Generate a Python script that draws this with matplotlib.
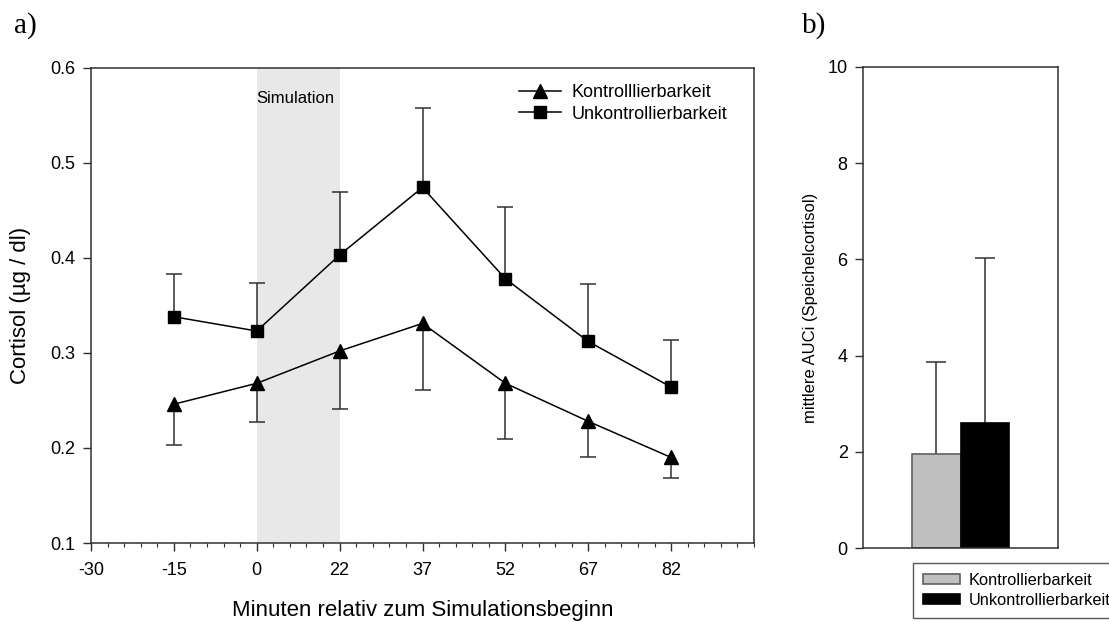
import numpy as np
import matplotlib
matplotlib.use("Agg")
import matplotlib.pyplot as plt
from matplotlib.ticker import MultipleLocator, FormatStrFormatter
from matplotlib.transforms import blended_transform_factory

plt.rcParams['font.family'] = ['Liberation Sans', 'DejaVu Sans']

# panel a: cortisol over time
minutes = ["-30", "-15", "0", "22", "37", "52", "67", "82"]
sample_minutes = ["-15", "0", "22", "37", "52", "67", "82"]
kontroll = [0.246, 0.268, 0.302, 0.331, 0.268, 0.228, 0.190]
kontroll_err = [0.043, 0.041, 0.061, 0.070, 0.059, 0.038, 0.022]
unkontroll = [0.338, 0.323, 0.403, 0.474, 0.378, 0.312, 0.264]
unkontroll_err = [0.045, 0.050, 0.066, 0.084, 0.075, 0.060, 0.050]
sim_start, sim_end = "0", "22"

# panel b: mean AUCi
groups = ["Kontrollierbarkeit", "Unkontrollierbarkeit"]
auci = [1.96, 2.61]
auci_err = [1.91, 3.41]
bar_colors = ["#c0c0c0", "black"]

W, H = 1109, 622
DARK = "#303030"


def style_ticks(ax):
    ax.tick_params(which='major', direction='out', length=6, width=1,
                   color=DARK, labelsize=13)
    ax.tick_params(which='minor', direction='out', length=3, width=0.8,
                   color=DARK)
    for s in ax.spines.values():
        s.set_color(DARK)
        s.set_linewidth(1.1)


def main():
    fig = plt.figure(figsize=(W / 100, H / 100), dpi=100)

    # ---- a) ----
    ax = fig.add_axes([91 / W, 79 / H, 663 / W, 475.3 / H])
    pos = {m: i for i, m in enumerate(minutes)}
    x = np.array([pos[m] for m in sample_minutes], dtype=float)
    k = np.array(kontroll)
    u = np.array(unkontroll)
    zeros = np.zeros_like(k)

    ax.axvspan(pos[sim_start], pos[sim_end], color="#e8e8e8", lw=0, zorder=0)

    eb = ax.errorbar(x, k, yerr=[np.array(kontroll_err), zeros], fmt='none',
                     ecolor=DARK, elinewidth=1.1, capsize=6, capthick=1.1,
                     zorder=2)
    eb[1][1].set_visible(False)
    eb = ax.errorbar(x, u, yerr=[zeros, np.array(unkontroll_err)], fmt='none',
                     ecolor=DARK, elinewidth=1.1, capsize=6, capthick=1.1,
                     zorder=2)
    eb[1][0].set_visible(False)

    ax.plot(x, k, color='black', lw=1.1, marker='^', markersize=10.5,
            label="Kontrolllierbarkeit", zorder=3)
    ax.plot(x, u, color='black', lw=1.1, marker='s', markersize=8,
            label="Unkontrollierbarkeit", zorder=3)

    ax.set_xlim(0, len(minutes))
    ax.set_xticks(range(len(minutes)))
    ax.set_xticklabels(minutes)
    ax.xaxis.set_minor_locator(MultipleLocator(0.2))
    ax.set_ylim(0.1, 0.6)
    ax.yaxis.set_major_locator(MultipleLocator(0.1))
    ax.yaxis.set_major_formatter(FormatStrFormatter('%.1f'))
    style_ticks(ax)
    ax.tick_params(axis='x', pad=8)
    ax.tick_params(axis='y', pad=5)

    ax.set_xlabel("Minuten relativ zum Simulationsbeginn", fontsize=16,
                  labelpad=15)
    ax.set_ylabel("Cortisol (µg / dl)", fontsize=16, labelpad=14)

    trans = blended_transform_factory(ax.transData, ax.transAxes)
    ax.text(pos[sim_start], 0.936, "Simulation", transform=trans,
            ha='left', va='center', fontsize=12)

    ax.legend(loc='upper left', bbox_to_anchor=(519 / W, 1 - 84 / H),
              bbox_transform=fig.transFigure, frameon=False, fontsize=13,
              handlelength=2.3, handletextpad=0.6, labelspacing=0.25,
              borderpad=0, borderaxespad=0)

    # ---- b) ----
    bx = fig.add_axes([863 / W, (H - 548.3) / H, 195 / W, 481.6 / H])
    bpos = np.arange(len(groups)) - (len(groups) - 1) / 2
    bars = bx.bar(bpos, auci, width=1.0, color=bar_colors,
                  edgecolor=["#606060", "black"], linewidth=1.2, zorder=2)
    eb = bx.errorbar(bpos, auci, yerr=[np.zeros(len(auci)), np.array(auci_err)],
                     fmt='none', ecolor=DARK, elinewidth=1.1, capsize=7,
                     capthick=1.1, zorder=1)
    eb[1][0].set_visible(False)
    bx.set_xlim(-2, 2)
    bx.set_ylim(0, 10)
    bx.yaxis.set_major_locator(MultipleLocator(2))
    bx.set_xticks([])
    style_ticks(bx)
    bx.tick_params(axis='y', pad=5)
    bx.set_ylabel("mittlere AUCi (Speichelcortisol)", fontsize=12,
                  labelpad=7)

    leg = fig.legend(bars, groups, loc='upper left',
                     bbox_to_anchor=(913 / W, 1 - 563 / H), fontsize=11.8,
                     frameon=True, fancybox=False, edgecolor=DARK,
                     handlelength=2.25, handleheight=0.55, handletextpad=0.55,
                     labelspacing=0.3, borderpad=0.6, borderaxespad=0)
    leg.get_frame().set_linewidth(1.0)

    fig.text(14 / W, 1 - 12 / H, "a)", va='top', ha='left', fontsize=21,
             family='Liberation Serif')
    fig.text(802 / W, 1 - 12 / H, "b)", va='top', ha='left', fontsize=21,
             family='Liberation Serif')

    fig.savefig("out.png", dpi=100)


if __name__ == "__main__":
    main()
